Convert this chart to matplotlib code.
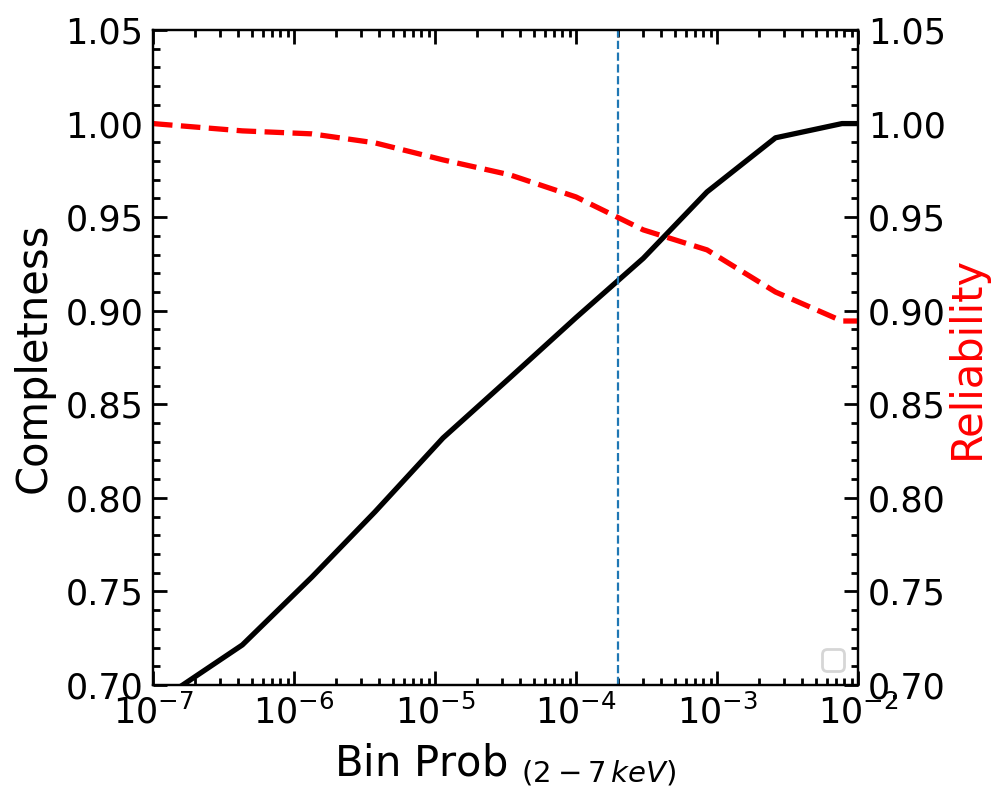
import matplotlib
matplotlib.use("Agg")
import matplotlib.pyplot as plt
from matplotlib.ticker import MultipleLocator, LogLocator, NullFormatter
import warnings

# Data
bin_prob = [1.0e-7, 1.45e-7, 4.3e-7, 1.34e-6, 3.75e-6, 1.14e-5, 3.4e-5, 1.0e-4,
            3.0e-4, 8.5e-4, 2.6e-3, 7.7e-3, 1.2e-2]
completeness = [0.680, 0.6975, 0.7214, 0.7577, 0.7925, 0.832, 0.8642, 0.8963,
                0.928, 0.9635, 0.9924, 1.000, 1.000]
reliability = [1.000, 0.999, 0.9961, 0.9945, 0.9897, 0.9806, 0.9726, 0.9608,
               0.9432, 0.9325, 0.910, 0.8945, 0.8945]
threshold = 2e-4

fig = plt.figure(figsize=(5, 4), dpi=200)
ax = fig.add_axes([0.153, 0.14375, 0.705, 0.81875])
ax2 = ax.twinx()

ax.plot(bin_prob, completeness, color='black', lw=1.9)
ax2.plot(bin_prob, reliability, color='red', lw=1.9, ls='--')
ax.axvline(threshold, color='C0', ls='--', lw=0.8)

ax.set_xscale('log')
ax.set_xlim(1e-7, 1e-2)
for a in (ax, ax2):
    a.set_ylim(0.70, 1.05)
    a.yaxis.set_major_locator(MultipleLocator(0.05))
    a.yaxis.set_minor_locator(MultipleLocator(0.01))
    for s in a.spines.values():
        s.set_linewidth(0.8)

ax.xaxis.set_major_locator(LogLocator(base=10, numticks=20))
ax.xaxis.set_minor_locator(LogLocator(base=10, subs=range(2, 10), numticks=50))
ax.xaxis.set_minor_formatter(NullFormatter())

ax.tick_params(which='both', direction='in', top=True, labelsize=12.6, width=1)
ax.tick_params(which='major', length=5)
ax.tick_params(which='minor', length=2.5)
ax.tick_params(axis='y', which='both', right=False)
ax2.tick_params(which='both', direction='in', labelsize=12.6, width=1)
ax2.tick_params(which='major', length=5)
ax2.tick_params(which='minor', length=2.5)

ax.set_yticklabels([f"{v:.2f}" for v in ax.get_yticks()])
ax2.set_yticklabels([f"{v:.2f}" for v in ax2.get_yticks()])

ax.set_xlabel(r'Bin Prob $_{(2-7\,keV)}$', fontsize=15)
ax.set_ylabel('Completness', fontsize=15)
ax2.set_ylabel('Reliability', fontsize=15, color='red', labelpad=0)

with warnings.catch_warnings():
    warnings.simplefilter('ignore')
    ax2.legend(loc='lower right')

fig.savefig('out.png', dpi=200)
